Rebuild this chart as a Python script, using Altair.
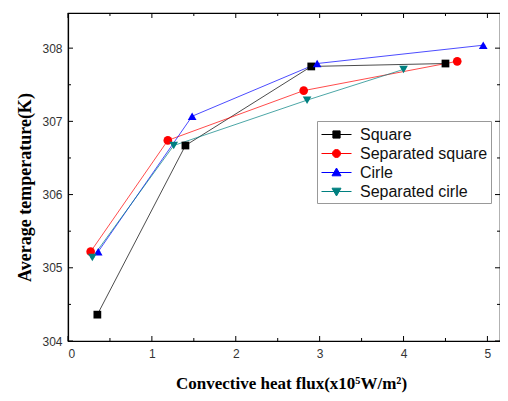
import altair as alt
import pandas as pd

series_names = ["Square", "Separated square", "Cirle", "Separated cirle"]
series_colors = ["#000000", "#ff0000", "#0000ff", "#008080"]
series_shapes = ["square", "circle", "triangle-up", "triangle-down"]
series_sizes = [60, 75, 75, 75]

square_x = [0.35, 1.40, 2.90, 4.50]
square_y = [304.36, 306.67, 307.75, 307.79]
sep_square_x = [0.27, 1.19, 2.81, 4.64]
sep_square_y = [305.22, 306.74, 307.42, 307.82]
cirle_x = [0.36, 1.48, 2.97, 4.95]
cirle_y = [305.22, 307.07, 307.79, 308.04]
sep_cirle_x = [0.29, 1.26, 2.85, 4.00]
sep_cirle_y = [305.14, 306.67, 307.29, 307.71]

x_major = [0, 1, 2, 3, 4, 5]
x_minor = [0.5, 1.5, 2.5, 3.5, 4.5]
y_major = [304, 305, 306, 307, 308]
y_minor = [304.5, 305.5, 306.5, 307.5]

legend_paths = [
    "M-1.5,0H1.5M-0.36,-0.36H0.36V0.36H-0.36Z",
    "M-1.5,0H1.5M0.4,0A0.4,0.4,0,1,1,-0.4,0A0.4,0.4,0,1,1,0.4,0Z",
    "M-1.5,0H1.5M-0.45,0.33L0,-0.45L0.45,0.33Z",
    "M-1.5,0H1.5M-0.45,-0.33L0,0.45L0.45,-0.33Z",
]

xs_all = [square_x, sep_square_x, cirle_x, sep_cirle_x]
ys_all = [square_y, sep_square_y, cirle_y, sep_cirle_y]
rows = []
for name, xs, ys in zip(series_names, xs_all, ys_all):
    for i, (a, b) in enumerate(zip(xs, ys)):
        rows.append({"series": name, "x": a, "y": b, "idx": i})
df = pd.DataFrame(rows)

W, H = 432, 328
MAJ, MIN = 5, 3

x_scale = alt.Scale(domain=[0, 5.15], nice=False, zero=False)
y_scale = alt.Scale(domain=[304, 308.48], nice=False, zero=False)

label_font = "Liberation Sans"
title_font = "Liberation Serif"

x_axis = alt.Axis(
    values=x_major, format="d", ticks=False, grid=False,
    domainColor="#000", domainWidth=1.2,
    labelFont=label_font, labelFontSize=12, labelColor="#333", labelPadding=7,
    title="Convective heat flux(x10\u2075W/m\u00b2)", titleFont=title_font,
    titleFontSize=17, titleFontWeight="bold", titleColor="#000", titlePadding=16,
    titleX=223,
)
y_axis = alt.Axis(
    values=y_major, format="d", ticks=False, grid=False,
    domainColor="#000", domainWidth=1.2,
    labelFont=label_font, labelFontSize=12, labelColor="#333", labelPadding=6,
    title="Average temperature(K)", titleFont=title_font,
    titleFontSize=18, titleFontWeight="bold", titleColor="#000", titlePadding=7,
    titleY=174,
)

x_enc = alt.X("x:Q", scale=x_scale, axis=x_axis)
y_enc = alt.Y("y:Q", scale=y_scale, axis=y_axis)

base = alt.Chart(df)

line_layers = []
point_layers = []
for name, col, shp, sz in zip(series_names, series_colors, series_shapes, series_sizes):
    sub = base.transform_filter(alt.datum.series == name)
    line_layers.append(
        sub.mark_line(color=col, strokeWidth=1, opacity=0.7).encode(
            x=x_enc, y=y_enc, order="idx:Q")
    )
    point_layers.append(
        sub.mark_point(shape=shp, filled=True, size=sz, opacity=1, color=col).encode(
            x=x_enc, y=y_enc)
    )

def make_legend():
    return alt.Legend(
        title=None, orient="none", legendX=249, legendY=108,
        strokeColor="#999", fillColor="#fff", padding=3,
        symbolSize=400, symbolStrokeWidth=1, symbolOpacity=1, symbolOffset=6,
        rowPadding=0,
        labelFont=label_font, labelFontSize=16, labelColor="#111",
        labelOffset=13,
    )

# carrier layer for the legend: its tiny marks sit hidden under the real markers
legend_layer = base.mark_point(filled=True, strokeWidth=0.5, size=10).encode(
    x=x_enc, y=y_enc,
    shape=alt.Shape("series:N", scale=alt.Scale(domain=series_names, range=legend_paths),
                    legend=make_legend()),
    fill=alt.Fill("series:N", scale=alt.Scale(domain=series_names, range=series_colors),
                  legend=make_legend()),
    stroke=alt.Stroke("series:N", scale=alt.Scale(domain=series_names, range=series_colors),
                      legend=make_legend()),
)

def xticks(vals, length):
    d = pd.DataFrame({"x": vals})
    bot = alt.Chart(d).mark_rule(color="#000", strokeWidth=1).encode(
        x=x_enc, y=alt.value(H), y2=alt.value(H - length))
    top = alt.Chart(d).mark_rule(color="#000", strokeWidth=1).encode(
        x=x_enc, y=alt.value(0), y2=alt.value(length))
    return [bot, top]

def yticks(vals, length):
    d = pd.DataFrame({"y": vals})
    left = alt.Chart(d).mark_rule(color="#000", strokeWidth=1).encode(
        y=y_enc, x=alt.value(0), x2=alt.value(length))
    right = alt.Chart(d).mark_rule(color="#000", strokeWidth=1).encode(
        y=y_enc, x=alt.value(W), x2=alt.value(W - length))
    return [left, right]

tick_layers = xticks(x_major, MAJ) + xticks(x_minor, MIN) + yticks(y_major, MAJ) + yticks(y_minor, MIN)

chart = alt.layer(*line_layers, legend_layer, *point_layers, *tick_layers).properties(
    width=W, height=H,
    autosize=alt.AutoSizeParams(type="none"),
    padding={"left": 60, "top": 5, "right": 0, "bottom": 52},
).configure_view(stroke="#000", strokeWidth=1.2)

chart.save("out.html", embed_options={"renderer": "svg", "actions": False})
